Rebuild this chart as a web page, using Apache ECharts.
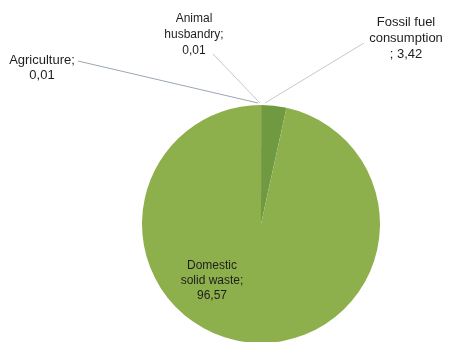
<!DOCTYPE html>
<html><head><meta charset="utf-8">
<script src="https://cdn.jsdelivr.net/npm/echarts@6/dist/echarts.min.js"></script>
<style>html,body{margin:0;padding:0;background:#fff}#c{width:453px;height:342px}</style>
</head><body><div id="c"></div>
<script>
var categories = ['Agriculture', 'Animal\nhusbandry', 'Fossil fuel\nconsumption\n', 'Domestic\nsolid waste'];
var values = [0.01, 0.01, 3.42, 96.57];
var colors = ['#8db04c', '#8db04c', '#6f9a42', '#8db04c'];

var labelPos = [
  {x: 42, y: 68, size: 13, lh: 15, lineColor: '#9aa6b2', line: [[258, 103], [78, 61], [78, 61]]},
  {x: 194, y: 35, size: 12, lh: 16, lineColor: '#c4c8cc', line: [[260, 103], [213, 54], [213, 54]]},
  {x: 406, y: 38, size: 13, lh: 16, lineColor: '#c4c8cc', line: [[265, 103], [364, 43], [364, 43]]},
  {x: 212, y: 281, size: 12, lh: 15, lineColor: null, line: null}
];

function fmt(v) { return v.toFixed(2).replace('.', ','); }

var data = categories.map(function (c, i) {
  var lp = labelPos[i];
  var item = {
    name: c, value: values[i], itemStyle: {color: colors[i]},
    label: {fontSize: lp.size, lineHeight: lp.lh}
  };
  if (lp.line) {
    item.labelLine = {lineStyle: {color: lp.lineColor, width: 1}};
  } else {
    item.label.position = 'inside';
    item.labelLine = {show: false};
  }
  return item;
});

var chart = echarts.init(document.getElementById('c'), null, {renderer: 'canvas'});
chart.setOption({
  animation: false,
  series: [{
    type: 'pie',
    center: [261, 224],
    radius: 119,
    startAngle: 90,
    clockwise: true,
    data: data,
    label: {
      show: true,
      position: 'outside',
      color: '#1e1e1e',
      fontFamily: 'Liberation Sans, Arial, sans-serif',
      fontSize: 12,
      lineHeight: 15,
      align: 'center',
      overflow: 'none',
      formatter: function (p) {
        var sep = p.dataIndex === 2 ? '; ' : ';\n';
        return p.name + sep + fmt(p.value);
      }
    },
    labelLine: {show: true, lineStyle: {color: '#c4c8cc', width: 1}, length: 10, length2: 10},
    labelLayout: function (params) {
      var lp = labelPos[params.dataIndex];
      var r = {x: lp.x, y: lp.y, align: 'center', verticalAlign: 'middle'};
      if (lp.line) r.labelLinePoints = lp.line;
      return r;
    }
  }]
});
</script></body></html>
